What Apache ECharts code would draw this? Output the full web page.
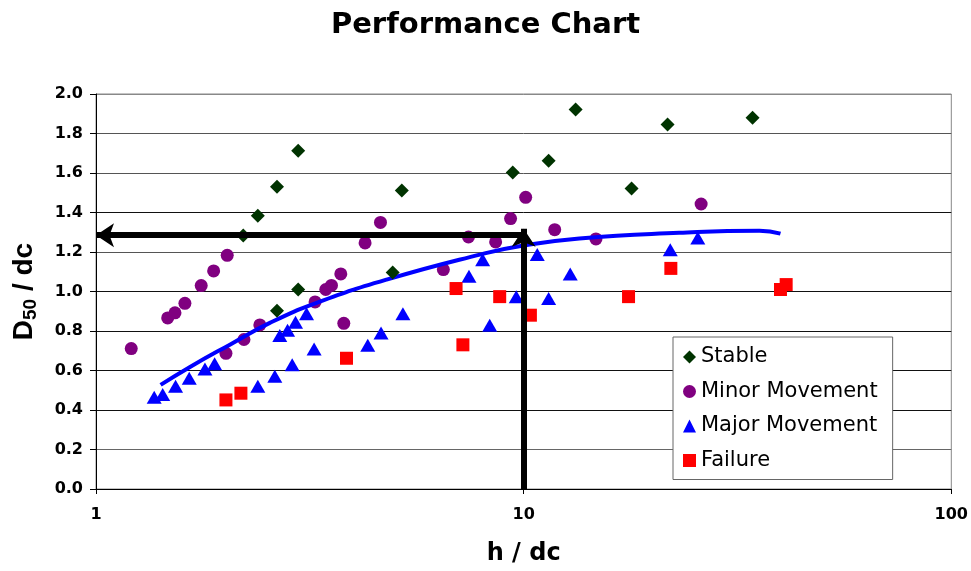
<!DOCTYPE html>
<html>
<head>
<meta charset="utf-8">
<script src="https://cdn.jsdelivr.net/npm/echarts@6/dist/echarts.min.js"></script>
<style>html,body{margin:0;padding:0;background:#fff;}#c{width:971px;height:571px;}</style>
</head>
<body>
<div id="c"></div>
<script>
// ---- data ----
const seriesNames = ['Stable', 'Minor Movement', 'Major Movement', 'Failure'];
const stable = [[2.21,1.283],[2.39,1.384],[2.65,1.531],[2.97,1.713],[2.65,0.903],[2.97,1.01],[4.94,1.096],[5.19,1.511],[9.43,1.602],[11.44,1.662],[13.23,1.921],[17.88,1.521],[21.7,1.845],[34.3,1.88]];
const minor = [[1.209,0.711],[1.471,0.866],[1.53,0.892],[1.614,0.94],[1.762,1.03],[1.884,1.104],[2.027,1.183],[2.013,0.687],[2.218,0.757],[2.416,0.831],[3.253,0.947],[3.446,1.01],[3.553,1.031],[3.736,1.089],[3.797,0.839],[4.258,1.246],[4.626,1.35],[6.49,1.111],[7.43,1.276],[8.6,1.251],[9.32,1.369],[10.11,1.477],[11.82,1.313],[14.76,1.266],[26.0,1.443]];
const major = [[1.368,0.465],[1.432,0.478],[1.535,0.52],[1.652,0.561],[1.798,0.608],[1.894,0.634],[2.39,0.52],[2.619,0.571],[2.876,0.629],[3.236,0.709],[2.69,0.777],[2.805,0.804],[2.928,0.844],[3.107,0.887],[4.32,0.728],[4.64,0.79],[5.22,0.887],[7.45,1.077],[8.02,1.161],[8.33,0.829],[9.61,0.973],[10.76,1.187],[11.44,0.964],[12.85,1.089],[22.02,1.212],[25.54,1.271]];
const failure = [[2.013,0.451],[2.182,0.485],[3.853,0.662],[6.95,1.015],[7.21,0.73],[8.79,0.974],[10.37,0.88],[17.59,0.974],[22.09,1.117],[39.86,1.01],[41.1,1.035]];
const trend = [[1.416,0.527],[1.659,0.618],[2.056,0.731],[2.55,0.841],[3.279,0.942],[4.78,1.06],[7.9,1.187],[9.77,1.229],[13.5,1.268],[23.1,1.297],[35.6,1.308],[39.86,1.293]];
const readX = 10;        // h/dc where the arrows meet
const readY = 1.285;
const arrowTipY = 1.318; // top of the vertical arrow
const xMin = 1, xMax = 100;
const yMin = 0, yMax = 2, yStep = 0.2;
const xTickLabels = {1: '1', 10: '10', 100: '100'};
const yTickLabels = ['0.0','0.2','0.4','0.6','0.8','1.0','1.2','1.4','1.6','1.8','2.0'];

const F = 'DejaVu Sans';
const chart = echarts.init(document.getElementById('c'), null, {renderer: 'canvas'});
chart.setOption({
  backgroundColor: '#fff',
  animation: false,
  title: {
    text: 'Performance Chart', left: 'center', top: 6,
    textStyle: {fontFamily: F, fontWeight: 'bold', fontSize: 29, color: '#000'}
  },
  grid: {left: 96, right: 19, top: 94, bottom: 81, show: true, borderColor: '#888', borderWidth: 1, backgroundColor: 'transparent'},
  legend: {
    data: [
      {name: seriesNames[0], icon: 'diamond'},
      {name: seriesNames[1], icon: 'circle'},
      {name: seriesNames[2], icon: 'triangle'},
      {name: seriesNames[3], icon: 'rect'}
    ],
    orient: 'vertical', left: 673, top: 337,
    itemWidth: 13, itemHeight: 13, itemGap: 12.5,
    padding: [9, 15, 8, 10],
    backgroundColor: '#fff', borderColor: '#666', borderWidth: 1,
    textStyle: {fontFamily: F, fontSize: 21, lineHeight: 22, color: '#000'}
  },
  xAxis: {
    type: 'log', logBase: 10, min: xMin, max: xMax,
    name: 'h / dc', nameLocation: 'middle', nameGap: 53,
    nameTextStyle: {fontFamily: F, fontWeight: 'bold', fontSize: 24, color: '#000'},
    axisLine: {show: true, lineStyle: {color: '#000', width: 1}},
    axisTick: {show: true, inside: false, length: 5, lineStyle: {color: '#000'}},
    minorTick: {show: false},
    splitLine: {show: false},
    axisLabel: {margin: 18, fontFamily: F, fontWeight: 'bold', fontSize: 16, color: '#000',
      formatter: v => xTickLabels[Math.round(v)] || ''}
  },
  yAxis: {
    type: 'value', min: yMin, max: yMax, interval: yStep,
    name: '{a|D}{b|50}{a| / dc}', nameLocation: 'middle', nameGap: 56, nameRotate: 90,
    nameTextStyle: {
      rich: {
        a: {fontFamily: 'Liberation Sans', fontWeight: 'bold', fontSize: 28, lineHeight: 32, color: '#000'},
        b: {fontFamily: 'Liberation Sans', fontWeight: 'bold', fontSize: 19, lineHeight: 26, verticalAlign: 'bottom', color: '#000'}
      }
    },
    axisLine: {show: true, lineStyle: {color: '#000', width: 1}},
    axisTick: {show: true, inside: false, length: 6, lineStyle: {color: '#000'}},
    splitLine: {show: true, lineStyle: {width: 1,
      color: ['#000','#666','#111','#111','#111','#111','#555','#111','#555','#555','#888']}},
    axisLabel: {margin: 13, fontFamily: F, fontWeight: 'bold', fontSize: 16, color: '#000',
      formatter: (v) => yTickLabels[Math.round(v / yStep)]}
  },
  series: [
    {
      name: 'trend', type: 'line', data: trend, smooth: 0.5, showSymbol: false, symbol: 'none',
      lineStyle: {color: '#0000FF', width: 4}, z: 3, silent: true
    },
    {
      name: seriesNames[0], type: 'scatter', data: stable, symbol: 'diamond', symbolSize: 14,
      itemStyle: {color: '#003300', opacity: 1}, z: 4
    },
    {
      name: seriesNames[1], type: 'scatter', data: minor, symbol: 'circle', symbolSize: 13,
      itemStyle: {color: '#800080', opacity: 1}, z: 2
    },
    {
      name: seriesNames[2], type: 'scatter', data: major, symbol: 'triangle', symbolSize: [15, 13],
      itemStyle: {color: '#0000FF', opacity: 1}, z: 4
    },
    {
      name: seriesNames[3], type: 'scatter', data: failure, symbol: 'rect', symbolSize: 13,
      itemStyle: {color: '#FF0000', opacity: 1}, z: 4
    },
    {
      name: 'arrows', type: 'line', data: [], clip: false, z: 5, silent: true,
      markLine: {
        silent: true, animation: false,
        symbol: ['none', 'arrow'], symbolSize: [18, 18],
        label: {show: false},
        lineStyle: {color: '#000', width: 6, type: 'solid'},
        emphasis: {disabled: true},
        data: [
          [{coord: [readX, readY]}, {coord: [xMin, readY]}],
          [{coord: [readX, yMin]}, {coord: [readX, arrowTipY]}]
        ]
      }
    }
  ]
});
</script>
</body>
</html>
